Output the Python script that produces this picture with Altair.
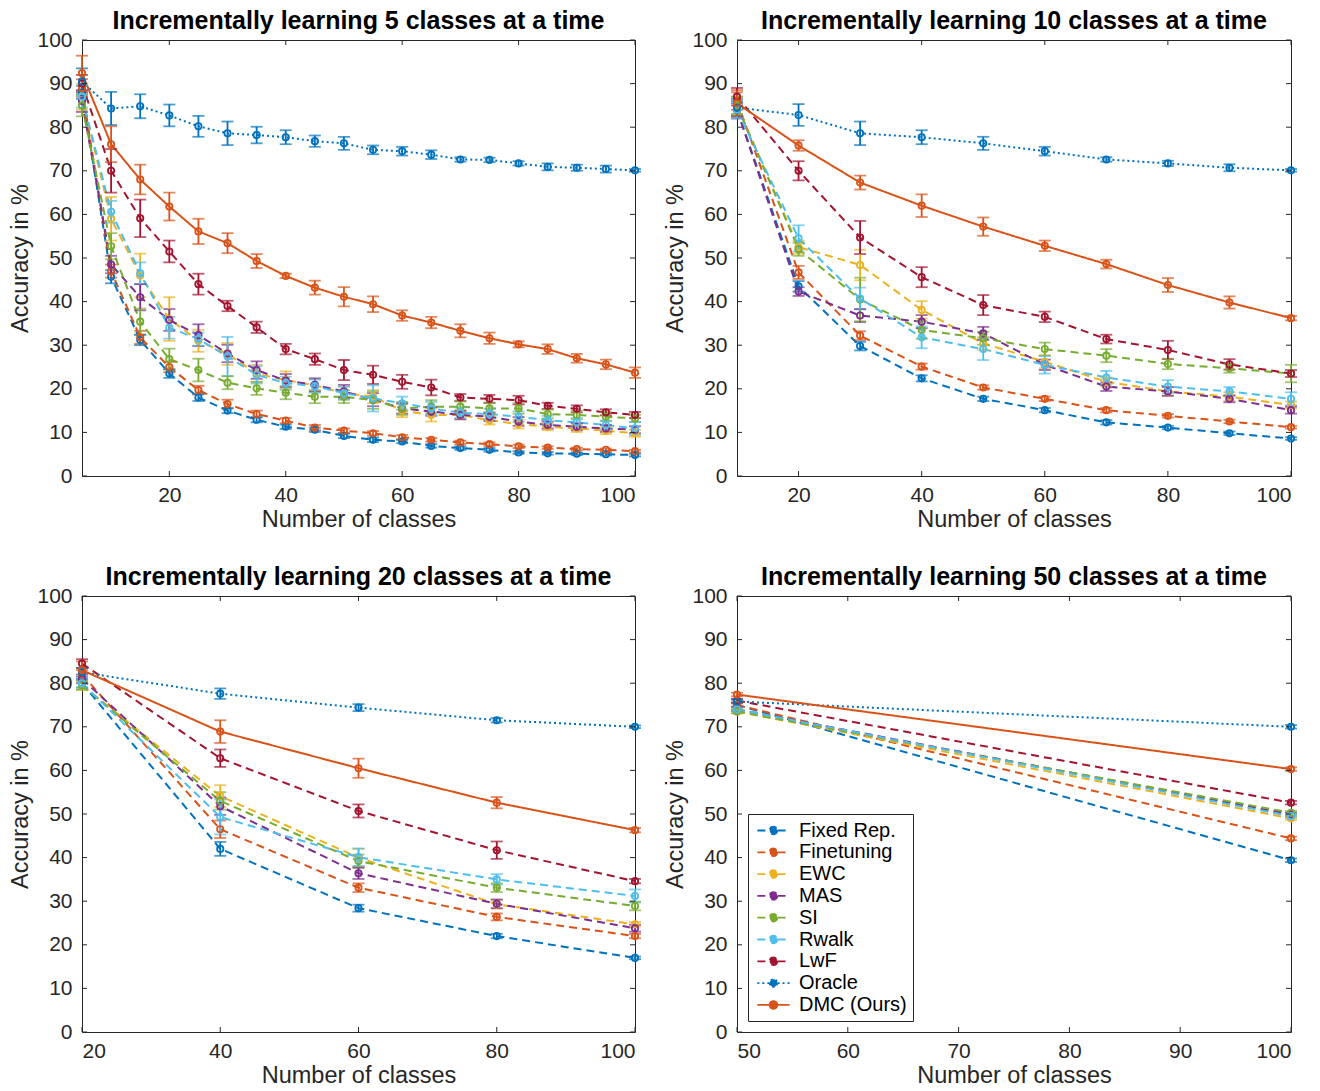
import altair as alt
import pandas as pd

methods = ["Fixed Rep.", "Finetuning", "EWC", "MAS", "SI", "Rwalk", "LwF", "Oracle", "DMC (Ours)"]
colors = ["#0072BD", "#D95319", "#EDB120", "#7E2F8E", "#77AC30", "#4DBEEE", "#A2142F", "#0072BD", "#D95319"]
dashes = [[8, 5]] * 7 + [[2, 3], [1, 0]]
yticks = list(range(0, 101, 10))

# ---------- 5 classes at a time ----------
x5 = list(range(5, 101, 5))
v5 = {
    "Fixed Rep.": [88, 45.7, 31.2, 23.5, 18.0, 15.0, 12.9, 11.3, 10.6, 9.2, 8.3, 7.9, 6.9, 6.4, 6.0, 5.4, 5.2, 5.1, 5.0, 4.8],
    "Finetuning": [89, 47.0, 31.8, 25.0, 19.7, 16.5, 14.2, 12.7, 11.1, 10.4, 9.8, 8.9, 8.3, 7.7, 7.3, 6.8, 6.5, 6.2, 6.0, 5.7],
    "EWC": [87, 59.0, 46.0, 36.0, 31.0, 28.0, 23.5, 22.0, 20.8, 19.0, 18.2, 15.0, 14.0, 14.0, 12.8, 11.9, 11.3, 10.9, 10.4, 9.8],
    "MAS": [86, 48.5, 41.0, 35.8, 32.3, 28.1, 24.3, 21.9, 20.9, 19.4, 17.5, 15.5, 14.8, 14.0, 13.6, 12.5, 11.7, 11.3, 10.9, 10.6],
    "SI": [85, 52.7, 35.4, 26.8, 24.3, 21.4, 20.1, 19.1, 18.2, 18.2, 17.4, 15.5, 15.9, 15.9, 15.5, 15.5, 14.2, 14.0, 13.6, 13.2],
    "Rwalk": [87, 60.6, 46.5, 34.0, 31.4, 27.4, 23.2, 21.3, 20.6, 19.0, 17.8, 16.7, 15.5, 14.5, 14.2, 13.6, 12.8, 12.3, 11.7, 10.9],
    "LwF": [90, 70.0, 59.1, 51.5, 44.0, 39.0, 34.1, 29.1, 26.8, 24.3, 23.2, 21.6, 20.3, 18.0, 17.7, 17.4, 16.1, 15.4, 14.6, 14.0],
    "Oracle": [90.5, 84.3, 84.8, 82.7, 80.2, 78.6, 78.2, 77.7, 76.8, 76.3, 74.8, 74.5, 73.7, 72.6, 72.5, 71.7, 70.9, 70.7, 70.4, 70.1],
    "DMC (Ours)": [92.4, 76.1, 68.0, 61.8, 56.1, 53.4, 49.3, 45.9, 43.2, 41.1, 39.4, 36.8, 35.2, 33.3, 31.6, 30.2, 29.1, 27.0, 25.6, 23.7],
}
e5 = {
    "Fixed Rep.": [1.5, 1.5, 1.2, 1.0, 0.8, 0.6, 0.6, 0.5, 0.5, 0.5, 0.5, 0.4, 0.4, 0.4, 0.4, 0.3, 0.3, 0.3, 0.3, 0.3],
    "Finetuning": [2.0, 1.5, 1.5, 1.2, 1.0, 1.0, 0.8, 0.6, 0.6, 0.5, 0.5, 0.5, 0.4, 0.4, 0.4, 0.4, 0.3, 0.3, 0.3, 0.3],
    "EWC": [3.0, 5.0, 5.0, 5.0, 2.5, 2.5, 2.0, 2.0, 1.5, 1.5, 1.5, 1.5, 1.5, 1.0, 1.0, 1.0, 0.8, 0.8, 0.8, 0.8],
    "MAS": [2.5, 2.0, 3.0, 2.5, 2.5, 2.0, 2.0, 1.5, 1.5, 1.5, 1.5, 1.2, 1.0, 1.0, 1.0, 1.0, 0.8, 0.8, 0.8, 0.8],
    "SI": [2.5, 3.0, 3.0, 2.4, 2.6, 1.5, 1.5, 1.5, 1.5, 1.5, 2.0, 1.5, 1.5, 1.2, 1.2, 1.2, 1.0, 1.0, 1.0, 0.8],
    "Rwalk": [2.5, 2.5, 2.5, 2.5, 1.5, 4.5, 2.0, 1.5, 1.5, 1.5, 3.0, 1.5, 1.5, 1.2, 1.2, 1.2, 1.0, 1.0, 1.0, 1.5],
    "LwF": [2.0, 5.0, 4.3, 2.5, 2.4, 1.2, 1.3, 1.2, 1.3, 2.3, 2.1, 1.6, 1.8, 0.8, 0.9, 1.0, 0.7, 0.8, 0.7, 0.7],
    "Oracle": [3.0, 3.8, 2.75, 2.5, 2.4, 2.7, 1.9, 1.6, 1.3, 1.5, 1.0, 1.0, 1.0, 0.5, 0.5, 0.5, 0.8, 0.7, 0.8, 0.3],
    "DMC (Ours)": [4.0, 4.1, 3.4, 3.2, 2.9, 2.3, 1.6, 0.5, 1.6, 2.2, 1.8, 1.2, 1.3, 1.5, 1.3, 0.7, 1.1, 1.0, 1.1, 1.2],
}

# ---------- 10 classes at a time ----------
x10 = list(range(10, 101, 10))
v10 = {
    "Fixed Rep.": [84, 43.5, 29.8, 22.4, 17.7, 15.1, 12.3, 11.1, 9.8, 8.6],
    "Finetuning": [86, 46.7, 32.2, 25.1, 20.3, 17.7, 15.1, 13.8, 12.5, 11.2],
    "EWC": [85, 52.5, 48.4, 38.1, 30.4, 26.2, 21.6, 19.4, 18.2, 16.3],
    "MAS": [84, 42.3, 36.8, 35.4, 32.7, 25.5, 20.5, 19.4, 17.7, 15.1],
    "SI": [85, 52.0, 40.5, 33.5, 31.6, 29.1, 27.6, 25.7, 24.7, 23.5],
    "Rwalk": [84, 54.5, 40.7, 31.8, 29.1, 25.5, 22.6, 20.5, 19.4, 17.7],
    "LwF": [87, 70.0, 54.7, 45.6, 39.2, 36.5, 31.4, 28.9, 25.6, 23.5],
    "Oracle": [84.5, 82.8, 78.6, 77.7, 76.3, 74.5, 72.6, 71.7, 70.7, 70.1],
    "DMC (Ours)": [85.5, 75.8, 67.3, 62.0, 57.2, 52.8, 48.6, 43.8, 39.8, 36.2],
}
e10 = {
    "Fixed Rep.": [1.5, 1.2, 1.0, 0.7, 0.5, 0.5, 0.5, 0.4, 0.4, 0.3],
    "Finetuning": [2.0, 1.5, 1.0, 0.7, 0.5, 0.5, 0.5, 0.4, 0.4, 0.3],
    "EWC": [2.0, 1.5, 3.5, 2.0, 1.5, 1.5, 1.0, 1.0, 1.0, 0.8],
    "MAS": [2.0, 1.0, 1.5, 1.5, 1.5, 1.2, 1.0, 1.0, 0.8, 0.8],
    "SI": [2.0, 1.5, 5.0, 2.0, 1.5, 1.5, 1.5, 1.2, 1.0, 2.0],
    "Rwalk": [2.0, 3.0, 2.5, 2.5, 2.5, 2.0, 1.5, 1.5, 1.0, 1.5],
    "LwF": [2.0, 2.2, 3.8, 2.3, 2.3, 1.2, 1.0, 2.1, 1.2, 0.8],
    "Oracle": [2.0, 2.5, 2.7, 1.6, 1.5, 1.0, 0.5, 0.6, 0.8, 0.3],
    "DMC (Ours)": [3.0, 1.2, 1.6, 2.6, 2.1, 1.2, 1.0, 1.6, 1.4, 0.5],
}

# ---------- 20 classes at a time ----------
x20 = [20, 40, 60, 80, 100]
v20 = {
    "Fixed Rep.": [80, 42.0, 28.4, 22.0, 17.0],
    "Finetuning": [82, 46.5, 33.1, 26.4, 22.0],
    "EWC": [79.5, 54.1, 40.0, 29.3, 24.7],
    "MAS": [81, 51.8, 36.4, 29.4, 23.8],
    "SI": [79.5, 53.0, 39.2, 33.1, 28.9],
    "Rwalk": [80, 49.3, 40.1, 35.0, 31.2],
    "LwF": [84.5, 62.8, 50.7, 41.7, 34.6],
    "Oracle": [82.5, 77.6, 74.4, 71.5, 70.0],
    "DMC (Ours)": [83, 68.9, 60.5, 52.6, 46.3],
}
e20 = {
    "Fixed Rep.": [1.0, 1.6, 0.8, 0.5, 0.3],
    "Finetuning": [1.0, 2.0, 1.0, 0.8, 0.5],
    "EWC": [1.0, 2.5, 2.0, 1.0, 0.5],
    "MAS": [1.0, 2.0, 1.3, 1.0, 0.8],
    "SI": [1.0, 2.0, 1.5, 1.0, 1.0],
    "Rwalk": [1.0, 4.0, 2.0, 1.2, 1.5],
    "LwF": [1.0, 2.0, 1.5, 2.0, 0.5],
    "Oracle": [1.0, 1.2, 0.8, 0.5, 0.3],
    "DMC (Ours)": [2.0, 2.6, 2.2, 1.3, 0.5],
}

# ---------- 50 classes at a time ----------
x50 = [50, 100]
v50 = {
    "Fixed Rep.": [75, 39.4],
    "Finetuning": [75, 44.4],
    "EWC": [73.5, 49.0],
    "MAS": [74, 49.9],
    "SI": [73.5, 50.3],
    "Rwalk": [74, 49.5],
    "LwF": [76, 52.6],
    "Oracle": [75.8, 70.0],
    "DMC (Ours)": [77.4, 60.3],
}
e50 = {m: [0.4, 0.4] for m in methods}

H = 436
AX = "#262626"
FONT = "Liberation Sans"
YT = "Accuracy in %"
LEG_SYMBOL = "M-1.75,0H-0.44M0.44,0H1.75M0.42,0A0.42,0.42,0,1,1,-0.42,0A0.42,0.42,0,1,1,0.42,0"


def panel(xs, vals, errs, xdomain, xticks, title, show_legend, W):
    rows = []
    for m in methods:
        for xi, v, e in zip(xs, vals[m], errs[m]):
            rows.append(dict(method=m, x=xi, y=v, lo=v - e, hi=v + e))
    df = pd.DataFrame(rows)
    xsc = alt.Scale(domain=xdomain, nice=False, zero=False)
    ysc = alt.Scale(domain=[0, 100], nice=False, zero=False)
    X = alt.X("x:Q", scale=xsc, title="Number of classes", axis=alt.Axis(values=xticks, format="d"))
    Y = alt.Y("y:Q", scale=ysc, title=YT, axis=alt.Axis(values=yticks, format="d"))
    leg = alt.Legend(title=None, orient="bottom-left", offset=11, symbolFillColor="white") if show_legend else None
    cscale = alt.Scale(domain=methods, range=colors)
    color = alt.Color("method:N", scale=cscale, legend=leg, sort=methods)
    dash = alt.StrokeDash("method:N", scale=alt.Scale(domain=methods, range=dashes), legend=leg, sort=methods)
    color_nl = alt.Color("method:N", scale=cscale, legend=None)
    base = alt.Chart(df)
    lines = base.mark_line(strokeWidth=2).encode(x=X, y=Y, color=color, strokeDash=dash)
    err = base.mark_errorbar(ticks={"size": 12}, thickness=1.8).encode(
        x=alt.X("x:Q", scale=xsc, title="Number of classes"),
        y=alt.Y("lo:Q", scale=ysc, title=YT),
        y2="hi:Q",
        color=color_nl,
    )
    pts = base.mark_point(filled=False, size=40, strokeWidth=1.8, opacity=1).encode(
        x=alt.X("x:Q", scale=xsc, title="Number of classes"),
        y=alt.Y("y:Q", scale=ysc, title=YT),
        color=color_nl,
    )
    xt = pd.DataFrame({"x": xticks})
    yt = pd.DataFrame({"y": yticks})
    tx = alt.X("x:Q", scale=xsc, title="Number of classes")
    ty = alt.Y("y:Q", scale=ysc, title=YT)
    tb = alt.Chart(xt).mark_rule(color=AX, strokeWidth=1).encode(x=tx, y=alt.value(H), y2=alt.value(H - 5))
    tt = alt.Chart(xt).mark_rule(color=AX, strokeWidth=1).encode(x=tx, y=alt.value(0), y2=alt.value(5))
    tl = alt.Chart(yt).mark_rule(color=AX, strokeWidth=1).encode(y=ty, x=alt.value(0), x2=alt.value(5))
    tr = alt.Chart(yt).mark_rule(color=AX, strokeWidth=1).encode(y=ty, x=alt.value(W), x2=alt.value(W - 5))
    return alt.layer(lines, err, pts, tb, tt, tl, tr).properties(
        width=W,
        height=H,
        title=alt.TitleParams(title, fontSize=25, fontWeight="bold", font=FONT, color="black",
                              offset=-5, frame="group"),
    )


p1 = panel(x5, v5, e5, [5, 100], [20, 40, 60, 80, 100], "Incrementally learning 5 classes at a time", False, 553)
p2 = panel(x10, v10, e10, [10, 100], [20, 40, 60, 80, 100], "Incrementally learning 10 classes at a time", False, 554)
p3 = panel(x20, v20, e20, [20, 100], [20, 40, 60, 80, 100], "Incrementally learning 20 classes at a time", False, 553)
p4 = panel(x50, v50, e50, [50, 100], [50, 60, 70, 80, 90, 100], "Incrementally learning 50 classes at a time", True, 554)

chart = (
    alt.concat(p1, p2, p3, p4, columns=2, spacing={"row": 33, "column": 20})
    .resolve_scale(x="independent", y="independent", color="independent", strokeDash="independent")
    .properties(padding={"left": 0, "top": 0, "right": 5, "bottom": 0})
    .configure_view(stroke=AX, strokeWidth=1)
    .configure_axis(
        labelFont=FONT, labelFontSize=21, labelColor=AX, labelPadding=8,
        titleFont=FONT, titleFontSize=23.5, titleFontWeight="normal", titleColor=AX, titlePadding=2,
        ticks=False, domain=False, grid=False,
    )
    .configure_axisY(labelPadding=10, titlePadding=4)
    .configure_legend(
        labelFont=FONT, labelFontSize=20, labelColor="black", strokeColor=AX, fillColor="white",
        padding=6, symbolType=LEG_SYMBOL, symbolSize=340, symbolStrokeWidth=1.8, rowPadding=0.8,
        symbolOffset=9, labelOffset=15,
    )
)

chart.save("out.html", embed_options={"renderer": "svg", "actions": False})
